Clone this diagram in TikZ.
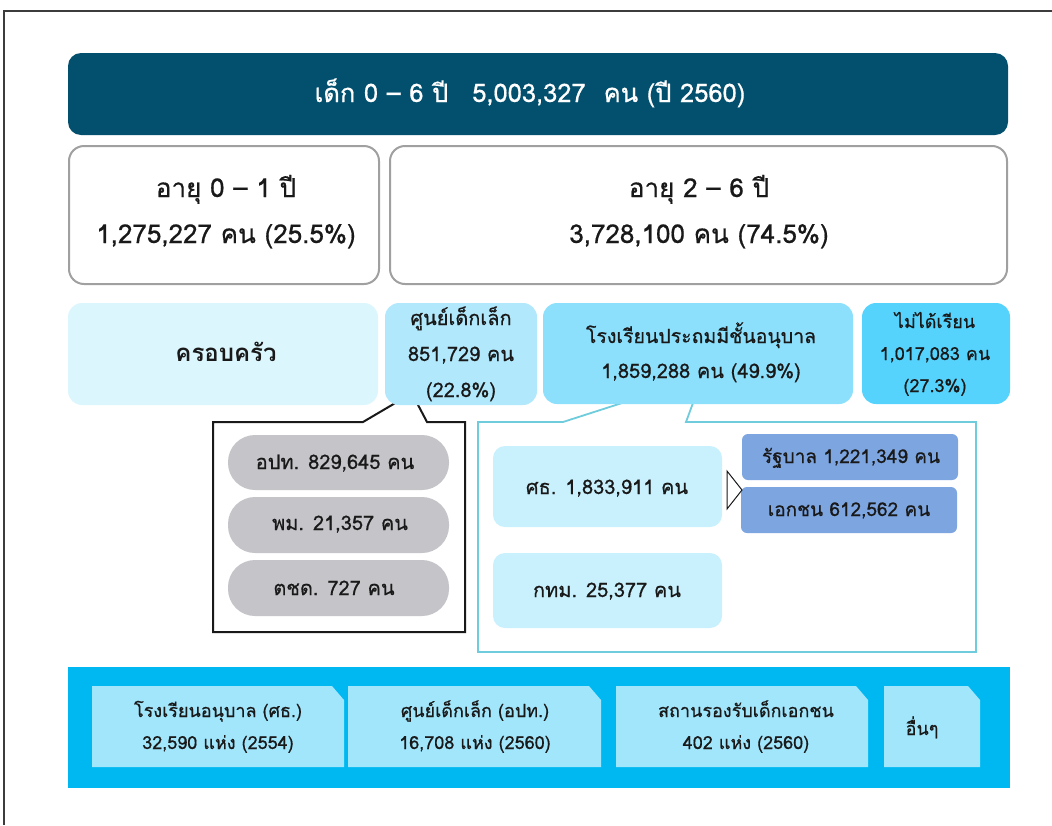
\documentclass[tikz,border=0pt]{standalone}
\usepackage{fontspec}
\newfontfamily\thai[Script=Thai,FakeBold=0.6]{Loma}
\newfontfamily\thaibold[Script=Thai]{Loma Bold}
\definecolor{headfill}{RGB}{3,79,110}
\definecolor{agegray}{RGB}{160,160,160}
\definecolor{famfill}{RGB}{220,246,253}
\definecolor{ccfill}{RGB}{178,232,251}
\definecolor{schfill}{RGB}{141,224,251}
\definecolor{nofill}{RGB}{85,211,252}
\definecolor{pillfill}{RGB}{196,196,201}
\definecolor{moefill}{RGB}{201,241,253}
\definecolor{govfill}{RGB}{125,165,224}
\definecolor{bandfill}{RGB}{0,184,241}
\definecolor{instfill}{RGB}{162,230,252}
\definecolor{tealline}{RGB}{111,204,220}
\definecolor{ink}{RGB}{25,25,25}
\definecolor{framegray}{RGB}{60,60,60}
\begin{document}
\begin{tikzpicture}[x=1pt,y=-1pt,
  box/.style={inner sep=0pt, outer sep=0pt},
  txt/.style={inner sep=0pt, anchor=base, text=ink, font=\thai\fontsize{20}{24}\selectfont},
  ctxt/.style={inner sep=0pt, anchor=base, text=ink, font=\thai\fontsize{26}{30}\selectfont},
  btxt/.style={inner sep=0pt, anchor=base, text=ink, font=\thai\fontsize{18}{22}\selectfont},
  stxt/.style={inner sep=0pt, anchor=base, text=ink, font=\thai\fontsize{18}{21}\selectfont}]
\useasboundingbox (0,0) rectangle (1052,825);
% page frame
\draw[framegray, line width=2pt] (4,825) -- (4,11) -- (1052,11);

% header
\node[box, fill=headfill, rounded corners=13pt, minimum width=940pt, minimum height=82pt] (head) at (538,94) {};
\node[ctxt, text=white, font=\thai\fontsize{25.5}{28}\selectfont] (headtxt) at (530,102) {เด็ก 0 – 6 ปี\hspace{24pt}5,003,327\hspace{18pt}คน (ปี 2560)};

% age groups
\node[box, draw=agegray, line width=2pt, fill=white, rounded corners=15pt, minimum width=310pt, minimum height=138pt] (ageA) at (224,215) {};
\node[box, draw=agegray, line width=2pt, fill=white, rounded corners=15pt, minimum width=617pt, minimum height=138pt] (ageB) at (698.5,215) {};
\node[ctxt] (ageAa) at (226,197) {อายุ 0 – 1 ปี};
\node[ctxt] (ageAb) at (226,243) {1,275,227 คน (25.5\%)};
\node[ctxt] (ageBa) at (699,197) {อายุ 2 – 6 ปี};
\node[ctxt] (ageBb) at (699,243) {3,728,100 คน (74.5\%)};

% callout of the child centres
\draw[ink, line width=2pt, fill=white, line join=miter]
  (397,402) -- (363,422) -- (213,422) -- (213,632) -- (465,632) -- (465,422) -- (427,422) -- (417,403);
% callout of the primary schools
\draw[tealline, line width=1.8pt, fill=white, line join=miter]
  (622,403) -- (563,422) -- (478,422) -- (478,652) -- (976,652) -- (976,422) -- (686,422) -- (693,403);

% care settings
\node[box, fill=famfill, rounded corners=14pt, minimum width=310pt, minimum height=102pt] (fam) at (223,354) {};
\node[box, fill=ccfill, rounded corners=14pt, minimum width=152pt, minimum height=102pt] (cc) at (461,354) {};
\node[box, fill=schfill, rounded corners=14pt, minimum width=310pt, minimum height=101pt] (sch) at (698,353.5) {};
\node[box, fill=nofill, rounded corners=14pt, minimum width=148pt, minimum height=101pt] (nosch) at (936,353.5) {};

\node[txt, font=\thaibold\fontsize{24}{28}\selectfont] (famtxt) at (226,361) {ครอบครัว};
\node[txt] (cca) at (461,325) {ศูนย์เด็กเล็ก};
\node[txt] (ccb) at (461,361) {851,729 คน};
\node[txt] (ccc) at (461,397) {(22.8\%)};
\node[txt, font=\thai\fontsize{19.5}{24}\selectfont] (scha) at (701,343) {โรงเรียนประถมมีชั้นอนุบาล};
\node[txt] (schb) at (701,378) {1,859,288 คน (49.9\%)};
\node[stxt] (noa) at (935,328) {ไม่ได้เรียน};
\node[stxt] (nob) at (935,360) {1,017,083 คน};
\node[stxt] (noc) at (935,392) {(27.3\%)};

% child centres by agency
\node[box, fill=pillfill, rounded corners=27pt, minimum width=221pt, minimum height=55pt] (p1) at (338.5,462.5) {};
\node[box, fill=pillfill, rounded corners=27pt, minimum width=221pt, minimum height=56pt] (p2) at (338.5,525) {};
\node[box, fill=pillfill, rounded corners=27pt, minimum width=221pt, minimum height=56pt] (p3) at (338.5,588) {};
\node[txt] (p1t) at (335,469) {อปท. 829,645 คน};
\node[txt] (p2t) at (340,530) {พม. 21,357 คน};
\node[txt] (p3t) at (334,595) {ตชด. 727 คน};

% primary schools by agency
\node[box, fill=moefill, rounded corners=12pt, minimum width=229pt, minimum height=81pt] (moe) at (607.5,486.5) {};
\node[box, fill=moefill, rounded corners=12pt, minimum width=229pt, minimum height=75pt] (bkk) at (607.5,590.5) {};
\node[txt] (moet) at (607,494) {ศธ. 1,833,911 คน};
\node[txt] (bkkt) at (607,597) {กทม. 25,377 คน};
\node[box, fill=govfill, rounded corners=6pt, minimum width=216pt, minimum height=46pt] (gov) at (850,457) {};
\node[box, fill=govfill, rounded corners=6pt, minimum width=216pt, minimum height=46pt] (pvt) at (849,510) {};
\node[txt, font=\thai\fontsize{19}{22}\selectfont] (govt) at (851,463) {รัฐบาล 1,221,349 คน};
\node[txt, font=\thai\fontsize{19}{22}\selectfont] (pvtt) at (849,516) {เอกชน 612,562 คน};
% split marker
\coordinate (splittip) at (742,490);
\draw[ink, line width=1pt, fill=white, line join=miter] (727,471) -- (splittip) -- (727,509) -- cycle;

% institutions
\node[box, fill=bandfill, minimum width=942pt, minimum height=121pt] (band) at (539,727.5) {};
\fill[instfill] (92,686) -- (332,686) -- (344,700) -- (344,767) -- (92,767) -- cycle;
\fill[instfill] (348,686) -- (589,686) -- (601,700) -- (601,767) -- (348,767) -- cycle;
\fill[instfill] (616,686) -- (856,686) -- (868,700) -- (868,767) -- (616,767) -- cycle;
\fill[instfill] (884,686) -- (968,686) -- (980,700) -- (980,767) -- (884,767) -- cycle;
\node[btxt] (i1a) at (218,717) {โรงเรียนอนุบาล (ศธ.)};
\node[btxt] (i1b) at (218,749) {32,590 แห่ง (2554)};
\node[btxt] (i2a) at (475,717) {ศูนย์เด็กเล็ก (อปท.)};
\node[btxt] (i2b) at (475,749) {16,708 แห่ง (2560)};
\node[btxt] (i3a) at (746,717) {สถานรองรับเด็กเอกชน};
\node[btxt] (i3b) at (746,749) {402 แห่ง (2560)};
\node[btxt] (i4a) at (922,735) {อื่นๆ};
\end{tikzpicture}
\end{document}
